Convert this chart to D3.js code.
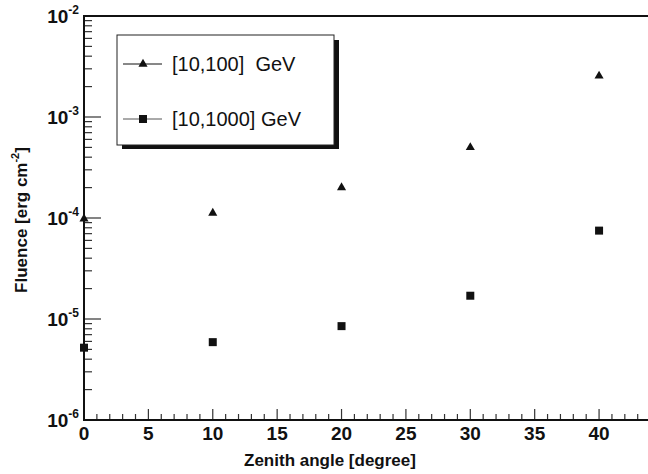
<!DOCTYPE html>
<html>
<head>
<meta charset="utf-8"/>
<script src="https://d3js.org/d3.v7.min.js"></script>
<style>
  body { margin: 0; background: #fff; }
  text { font-family: "Liberation Sans", Arial, sans-serif; }
</style>
</head>
<body>
<svg id="chart" width="648" height="474"></svg>
<script>
    // datos
    const zenith = [0, 10, 20, 30, 40];
    const fluence100 = [0.98e-4, 1.12e-4, 2.0e-4, 5.0e-4, 2.55e-3];
    const fluence1000 = [5.2e-6, 5.9e-6, 8.5e-6, 1.7e-5, 7.5e-5];
    const seriesLabels = ["[10,100]  GeV", "[10,1000] GeV"];
    const xTicks = [0, 5, 10, 15, 20, 25, 30, 35, 40];
    const yDecades = [-6, -5, -4, -3, -2];

    const svg = d3.select("#chart");
    const pLeft = 84, pRight = 648, pTop = 16, pBottom = 420;

    const x = d3.scaleLinear().domain([0, 43.8]).range([pLeft, pRight]);
    const y = d3.scaleLog().domain([1e-6, 1e-2]).range([pBottom, pTop]);

    // ticks menores del eje y
    const yMinor = [];
    yDecades.slice(0, -1).forEach(e => {
        for (let m = 2; m <= 9; m++) yMinor.push(m * Math.pow(10, e));
    });
    svg.selectAll("line.yminor").data(yMinor).enter().append("line")
        .attr("x1", pLeft).attr("x2", pLeft + 8)
        .attr("y1", d => y(d)).attr("y2", d => y(d))
        .attr("stroke", "#333").attr("stroke-width", 1.2);
    svg.selectAll("line.ymajor").data(yDecades).enter().append("line")
        .attr("x1", pLeft).attr("x2", pLeft + 17)
        .attr("y1", d => y(Math.pow(10, d))).attr("y2", d => y(Math.pow(10, d)))
        .attr("stroke", "#333").attr("stroke-width", 1.2);

    // etiquetas del eje y
    const ylab = svg.selectAll("text.ylab").data(yDecades).enter().append("text")
        .attr("x", 79).attr("y", d => y(Math.pow(10, d)) + 7)
        .attr("text-anchor", "end")
        .style("font-weight", "bold").style("font-size", "19px").attr("fill", "#111");
    ylab.append("tspan").text("10");
    ylab.append("tspan").attr("dy", -9).style("font-size", "12px").text(d => d);

    // ticks del eje x
    const xMinor = d3.range(0, 44, 1).filter(d => d % 5 !== 0);
    svg.selectAll("line.xminor").data(xMinor).enter().append("line")
        .attr("x1", d => x(d)).attr("x2", d => x(d))
        .attr("y1", pBottom).attr("y2", pBottom - 6)
        .attr("stroke", "#333").attr("stroke-width", 1.2);
    svg.selectAll("line.xmajor").data(xTicks).enter().append("line")
        .attr("x1", d => x(d)).attr("x2", d => x(d))
        .attr("y1", pBottom).attr("y2", pBottom - 11)
        .attr("stroke", "#333").attr("stroke-width", 1.2);
    svg.selectAll("text.xlab").data(xTicks).enter().append("text")
        .attr("x", d => x(d)).attr("y", 440)
        .attr("text-anchor", "middle")
        .style("font-weight", "bold").style("font-size", "19px").attr("fill", "#111")
        .text(d => d);

    // marco
    svg.append("line").attr("x1", pLeft).attr("x2", pLeft).attr("y1", pTop).attr("y2", pBottom + 1)
        .attr("stroke", "#111").attr("stroke-width", 2);
    svg.append("line").attr("x1", pLeft - 1).attr("x2", pRight).attr("y1", pBottom).attr("y2", pBottom)
        .attr("stroke", "#111").attr("stroke-width", 2);
    svg.append("line").attr("x1", pLeft - 1).attr("x2", pRight).attr("y1", pTop).attr("y2", pTop)
        .attr("stroke", "#111").attr("stroke-width", 2);

    // titulos de ejes
    svg.append("text").attr("x", 330).attr("y", 466).attr("text-anchor", "middle")
        .style("font-weight", "bold").style("font-size", "17px").attr("fill", "#111")
        .text("Zenith angle [degree]");
    const ytitle = svg.append("text")
        .attr("transform", "translate(27,220) rotate(-90)")
        .attr("text-anchor", "middle")
        .style("font-weight", "bold").style("font-size", "17px").attr("fill", "#111");
    ytitle.append("tspan").text("Fluence [erg cm");
    ytitle.append("tspan").attr("dy", -8).style("font-size", "11px").text("-2");
    ytitle.append("tspan").attr("dy", 8).text("]");

    // simbolos
    const tri = d3.symbol().type(d3.symbolTriangle).size(36);
    const sq = d3.symbol().type(d3.symbolSquare).size(64);

    svg.selectAll("path.tri").data(zenith).enter().append("path")
        .attr("d", tri)
        .attr("transform", (d, i) => `translate(${x(d)},${y(fluence100[i])})`)
        .attr("fill", "#111");
    svg.selectAll("path.sq").data(zenith).enter().append("path")
        .attr("d", sq)
        .attr("transform", (d, i) => `translate(${x(d)},${y(fluence1000[i])})`)
        .attr("fill", "#111");

    // leyenda
    const lg = svg.append("g");
    lg.append("rect").attr("x", 122).attr("y", 40).attr("width", 217).attr("height", 109).attr("fill", "#111");
    lg.append("rect").attr("x", 117).attr("y", 35).attr("width", 217).attr("height", 110)
        .attr("fill", "#fff").attr("stroke", "#222").attr("stroke-width", 1);
    const lgY = [64, 119];
    [tri, sq].forEach((s, i) => {
        lg.append("line").attr("x1", 123).attr("x2", 162).attr("y1", lgY[i]).attr("y2", lgY[i])
            .attr("stroke", i ? "#555" : "#111").attr("stroke-width", 1);
        lg.append("path").attr("d", s).attr("transform", `translate(143,${lgY[i]})`).attr("fill", "#111");
        lg.append("text").attr("x", 172).attr("y", lgY[i] + 7)
            .style("font-size", "20px").attr("fill", "#111")
            .style("white-space", "pre").attr("xml:space", "preserve")
            .text(seriesLabels[i]);
    });
</script>
</body>
</html>
